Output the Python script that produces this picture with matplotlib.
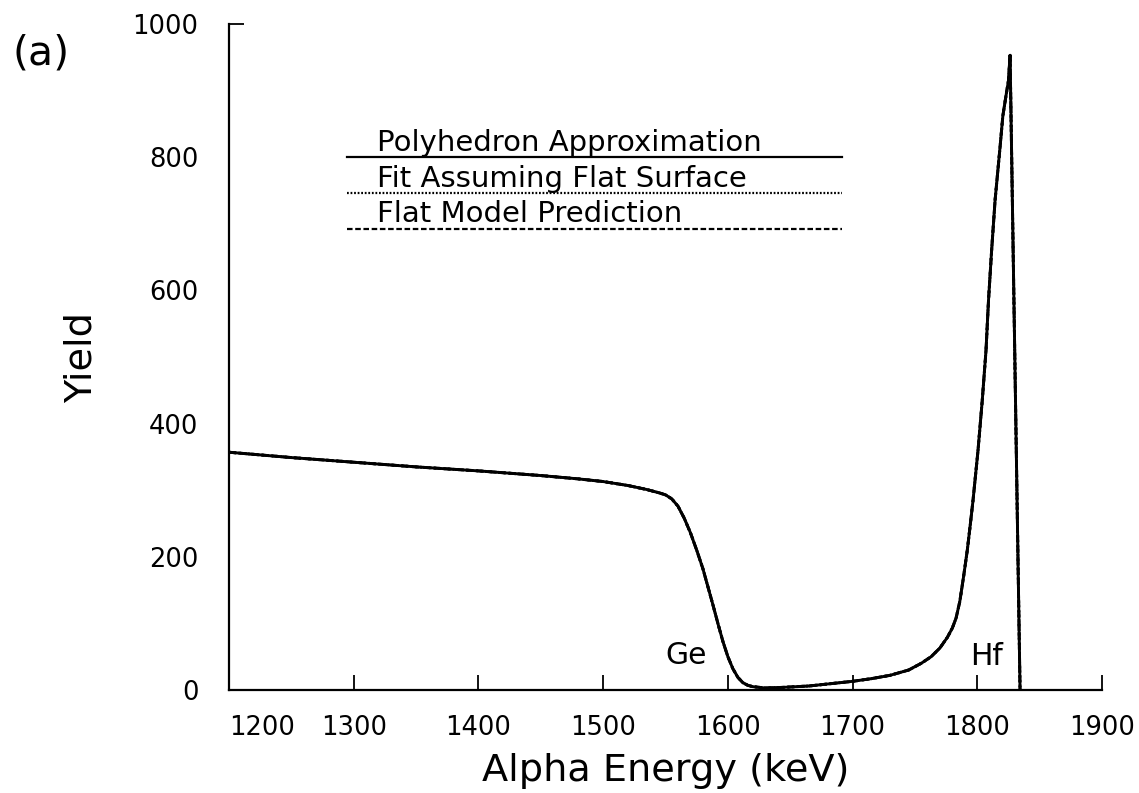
import numpy as np
import matplotlib.pyplot as plt

# spectrum (alpha energy in keV, yield in counts)
energy = [1200, 1250, 1300, 1350, 1400, 1450, 1480, 1500, 1520, 1535, 1545,
          1550, 1555, 1560, 1565, 1570, 1575, 1580, 1584, 1588, 1592, 1596,
          1600, 1604, 1608, 1612, 1616, 1620, 1630, 1645, 1665, 1685, 1700,
          1715, 1730, 1745, 1755, 1763, 1770, 1776, 1780, 1783, 1786, 1789,
          1792, 1794.5, 1796.6, 1800.6, 1804, 1807, 1809, 1811.5, 1814.3,
          1818.3, 1820.5, 1823, 1825, 1826.3, 1834.3]
poly_yield = [357, 349, 342, 335, 329, 322, 317, 313, 307, 301, 296,
              293, 287, 276, 258, 236, 210, 182, 155, 128, 100, 73,
              50, 32, 19, 11, 7, 5, 3, 4, 6, 10, 13,
              17, 22, 30, 40, 50, 63, 79, 93, 108, 133, 170,
              210, 250, 285, 360, 435, 510, 585, 660, 736,
              816, 862, 892, 915, 953, 0]
# the fit and the flat model lie on top of the polyhedron curve
fit_yield = list(poly_yield)
flat_yield = list(poly_yield)

legend_labels = ['Polyhedron Approximation', 'Fit Assuming Flat Surface',
                 'Flat Model Prediction']
xticks = [1200, 1300, 1400, 1500, 1600, 1700, 1800, 1900]
yticks = [0, 200, 400, 600, 800, 1000]

fig = plt.figure(figsize=(11.39, 7.93), dpi=100)
ax = fig.add_axes([0.2011, 0.1299, 0.7664, 0.8398])

lw = 2.1
ax.plot(energy, flat_yield, color='black', lw=lw, dashes=(2.5, 1.2))
ax.plot(energy, fit_yield, color='black', lw=lw, dashes=(0.8, 0.8))
ax.plot(energy, poly_yield, color='black', lw=lw, solid_joinstyle='round')

# legend: text above a sample line
styles = [dict(ls='-'), dict(dashes=(0.8, 0.8)), dict(dashes=(2.5, 1.2))]
line_y = [800, 746, 692]
for lab, st, yl in zip(legend_labels, styles, line_y):
    ax.plot([1294.6, 1691.6], [yl, yl], color='black', lw=1.6, **st)
    ax.text(1319, yl + 10, lab, fontsize=21, ha='left', va='baseline')

ax.text(1549.6, 39, 'Ge', fontsize=21.5, ha='left', va='baseline')
ax.text(1794.2, 37, 'Hf', fontsize=21.5, ha='left', va='baseline')

ax.set_xlim(1200, 1900)
ax.set_ylim(0, 1000)
ax.spines['top'].set_visible(False)
ax.spines['right'].set_visible(False)
ax.spines['left'].set_linewidth(1.6)
ax.spines['bottom'].set_linewidth(1.6)

ax.set_xticks(xticks)
ax.set_yticks(yticks)
ax.tick_params(axis='x', direction='in', length=11, width=1.3, pad=18,
               labelsize=18.5)
ax.tick_params(axis='y', direction='in', length=11, width=1.3, pad=22,
               labelsize=18.5)
# only the top y tick is visible in the original
for t in ax.yaxis.get_major_ticks()[:-1]:
    t.tick1line.set_markersize(0)
ax.get_xticklabels()[0].set_horizontalalignment('left')

ax.set_xlabel('Alpha Energy (keV)', fontsize=27.5, labelpad=9)
ax.set_ylabel('Yield', fontsize=27.5, labelpad=24)

fig.text(0.011, 0.9325, '(a)', fontsize=29.5, ha='left', va='center')

fig.savefig('out.png', dpi=100)
